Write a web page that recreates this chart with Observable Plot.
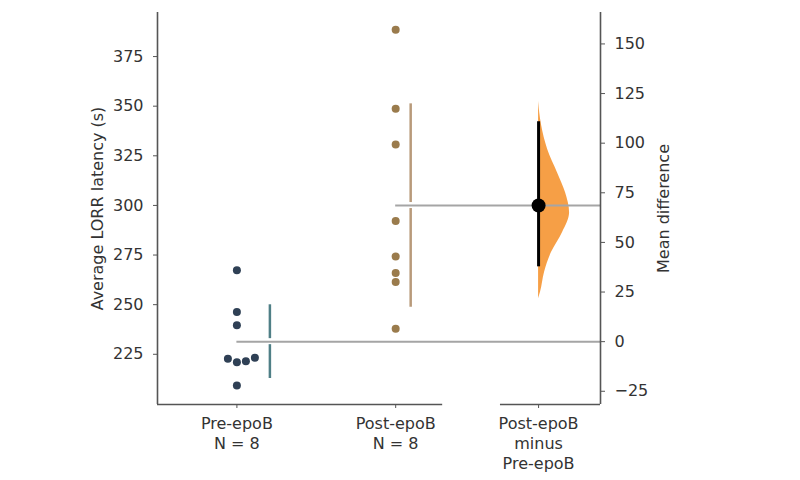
<!DOCTYPE html>
<html><head><meta charset="utf-8">
<script src="https://cdn.jsdelivr.net/npm/d3@7"></script>
<script src="https://cdn.jsdelivr.net/npm/@observablehq/plot@0.6"></script>
<style>body{margin:0;background:#fff;} #chart{position:absolute;left:0;top:0}</style>
</head><body><div id="chart"></div>
<script>
// ---- data ----
const groups = ["Pre-epoB", "Post-epoB"];
const preValues = [267.3, 246.3, 239.6, 221.5, 221.0, 222.7, 223.2, 209.3];
const postValues = [388.5, 348.7, 330.7, 292.1, 274.3, 265.9, 261.4, 237.9];
const diffLabel = "Post-epoB\nminus\nPre-epoB";
const ciBounds = [37.7, 110.8];
const bootDiff = [21.6, 25, 35, 45, 55, 65, 75, 85, 97, 109, 121];
const bootDensity = [0, 2, 6, 13, 24, 31, 27, 19, 9, 3, 0];
const leftTicks = [225, 250, 275, 300, 325, 350, 375];
const rightTicks = [-25, 0, 25, 50, 75, 100, 125, 150];
const yLabel = "Average LORR latency (s)";
const diffAxisLabel = "Mean difference";

// ---- layout ----
const W = 800, H = 480;
const mL = 157, mR = 200, mT = 12, mB = 76;
const xDom = [-0.5, 2.29], yDom = [199.7, 397.2];
const diffPos = 1.9;
const pxX = (W - mL - mR) / (xDom[1] - xDom[0]);
const pxY = (H - mT - mB) / (yDom[1] - yDom[0]);
const colors = ["#2f4055", "#9a7b4c"];
const gapColors = ["#4f7f86", "#b89a7a"];

const series = [preValues, postValues];
const means = series.map(a => d3.mean(a));
const sds = series.map(a => d3.deviation(a));
const meanDiff = means[1] - means[0];

// beeswarm offsets (pixels), computed
function swarm(vals, rc) {
  const placed = [];
  const order = vals.map((v, i) => i).sort((a, b) => vals[a] - vals[b]);
  const off = new Array(vals.length).fill(0);
  for (const i of order) {
    const yp = vals[i] * pxY;
    for (let k = 0; k < 200; k++) {
      const o = (k % 2 ? 1 : -1) * Math.ceil(k / 2);
      const ok = placed.every(p => Math.hypot(p.x - o, p.y - yp) >= 2 * rc);
      if (ok) { off[i] = o; placed.push({x: o, y: yp}); break; }
    }
  }
  return off;
}
const points = [];
const maxOff = [];
series.forEach((vals, g) => {
  const off = swarm(vals, 4.4);
  maxOff.push(d3.max(off));
  vals.forEach((v, i) => points.push({g, v, x: g + off[i] / pxX}));
});

const gapRows = [];
series.forEach((vals, g) => {
  const xg = g + (maxOff[g] + 15) / pxX;
  const gap = 3 / pxY;
  gapRows.push({x: xg, y1: means[g] + sds[g], y2: means[g] + gap, g});
  gapRows.push({x: xg, y1: means[g] - gap, y2: means[g] - sds[g], g});
});

const maxDens = d3.max(bootDensity);
const violin = bootDiff.map((d, i) => ({y: means[0] + d, x1: diffPos, x2: diffPos + bootDensity[i] / maxDens * 31 / pxX}));

const meanLines = means.map((m, g) => ({y: m, x1: g, x2: xDom[1]}));
const fmt = d => (d < 0 ? "\u2212" + Math.abs(d) : String(d));
const xTickLabels = new Map([[0, `${groups[0]}\nN = ${preValues.length}`], [1, `${groups[1]}\nN = ${postValues.length}`], [diffPos, diffLabel]]);

const axisColor = "#555";
const plot = Plot.plot({
  width: W, height: H,
  marginLeft: mL, marginRight: mR, marginTop: mT, marginBottom: mB,
  x: {domain: xDom, axis: null},
  y: {domain: yDom, axis: null},
  style: {fontFamily: "DejaVu Sans", fontSize: "16px", color: "#333", background: "#fff"},
  marks: [
    Plot.areaX(violin, {y: "y", x1: "x1", x2: "x2", fill: "#f59a3c", fillOpacity: 0.95, curve: "monotone-y"}),
    Plot.ruleY(meanLines, {y: "y", x1: "x1", x2: "x2", stroke: "#a5a5a5", strokeWidth: 2}),
    Plot.ruleX(gapRows, {x: "x", y1: "y1", y2: "y2", stroke: d => gapColors[d.g], strokeWidth: 2.5}),
    Plot.dot(points, {x: "x", y: "v", r: 4, fill: d => colors[d.g], stroke: "none"}),
    Plot.ruleX([diffPos], {y1: means[0] + ciBounds[0], y2: means[0] + ciBounds[1], stroke: "#000", strokeWidth: 3}),
    Plot.dot([meanDiff], {x: () => diffPos, y: d => means[0] + d, r: 7, fill: "#000"}),
    // axis lines
    Plot.ruleX([xDom[0], xDom[1]], {stroke: axisColor, strokeWidth: 1.6}),
    Plot.ruleY([{x1: xDom[0], x2: 1.296}, {x1: 1.66, x2: xDom[1]}], {y: () => yDom[0], x1: "x1", x2: "x2", stroke: axisColor, strokeWidth: 1.6}),
    Plot.axisY(leftTicks, {anchor: "left", tickSize: 4, tickPadding: 10, label: null, stroke: axisColor}),
    Plot.axisY(rightTicks.map(d => means[0] + d), {anchor: "right", tickSize: 4, tickPadding: 10, label: null, stroke: axisColor, tickFormat: d => fmt(Math.round(d - means[0]))}),
    Plot.axisX([0, 1, diffPos], {anchor: "bottom", tickSize: 4, tickPadding: 6, label: null, stroke: axisColor, tickFormat: d => xTickLabels.get(d), lineHeight: 1.25}),
    Plot.text([yLabel], {frameAnchor: "left", dx: -60, rotate: -90, text: d => d, textAnchor: "middle", fill: "#333"}),
    Plot.text([diffAxisLabel], {frameAnchor: "right", dx: 63, rotate: -90, text: d => d, textAnchor: "middle", fill: "#333"})
  ]
});
document.getElementById("chart").appendChild(plot);
</script>
</body></html>
